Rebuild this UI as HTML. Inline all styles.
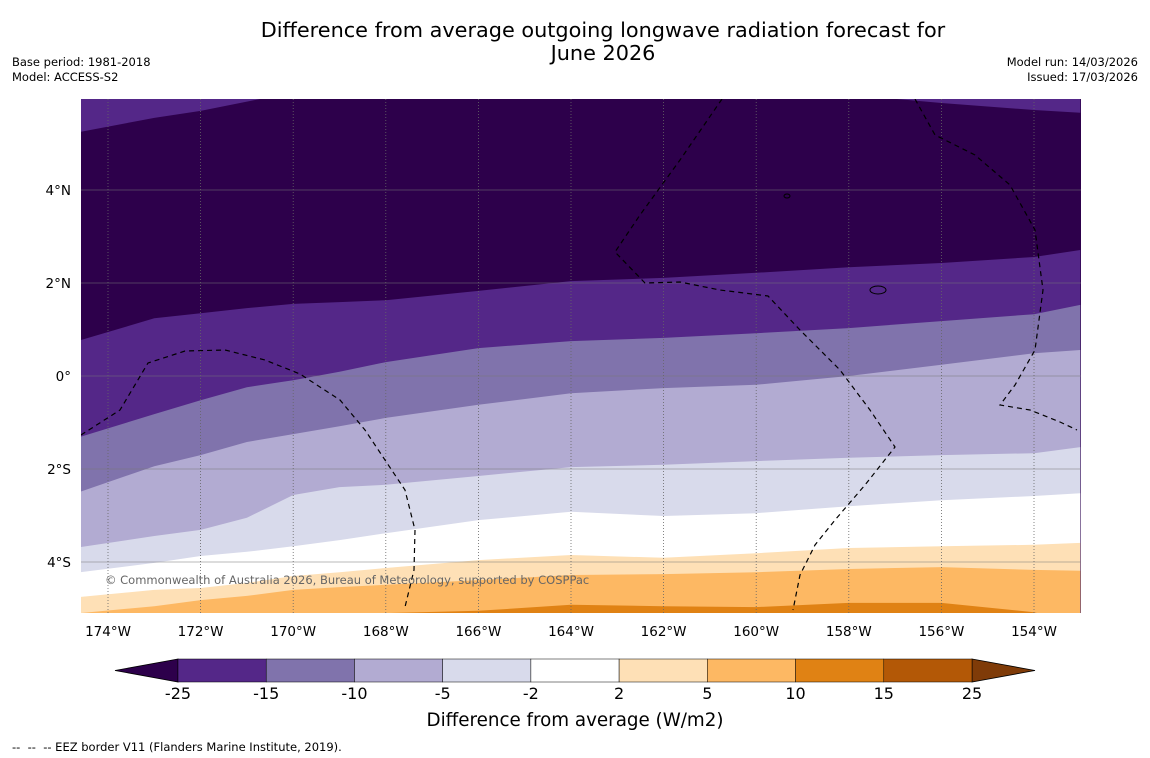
<!DOCTYPE html>
<html><head><meta charset="utf-8"><style>
body{margin:0;background:#fff;}
#wrap{position:relative;width:1150px;height:758px;font-family:"DejaVu Sans","Liberation Sans",sans-serif;overflow:hidden;}
.t{position:absolute;white-space:nowrap;color:#000;}
</style></head><body>
<div id="wrap">
<div class="t" style="left:0;width:1206px;top:19px;text-align:center;font-size:20.8px;line-height:23px;">Difference from average outgoing longwave radiation forecast for<br>June 2026</div>
<div class="t" style="left:12px;top:55px;font-size:11.5px;line-height:15px;">Base period: 1981-2018<br>Model: ACCESS-S2</div>
<div class="t" style="right:12px;top:55px;font-size:11.5px;line-height:15px;text-align:right;">Model run: 14/03/2026<br>Issued: 17/03/2026</div>
<div class="t" style="left:12px;top:740px;font-size:11.5px;">--&nbsp; --&nbsp; -- EEZ border V11 (Flanders Marine Institute, 2019).</div>
<svg id="svg" width="1150" height="758" style="position:absolute;left:0;top:0"></svg>
</div>
<script>
const lons=[-174.6,-173,-172,-171,-170,-169,-168,-166,-164,-162,-160,-158,-156,-154,-153];
const topStrip=[5.25,5.55,5.70,5.90,6.1,6.1,6.1,6.1,6.1,6.1,6.1,6.05,5.87,5.72,5.66];
const bM25=[0.77,1.24,1.35,1.46,1.55,1.59,1.63,1.83,2.04,2.11,2.22,2.34,2.43,2.56,2.71];
const bM15=[-1.31,-0.82,-0.52,-0.24,-0.09,0.09,0.30,0.60,0.75,0.82,0.92,1.03,1.18,1.33,1.53];
const bM10=[-2.49,-1.94,-1.70,-1.42,-1.25,-1.08,-0.90,-0.62,-0.37,-0.26,-0.19,0.0,0.24,0.49,0.56];
const bM5=[-3.68,-3.44,-3.31,-3.05,-2.56,-2.39,-2.34,-2.15,-1.96,-1.91,-1.83,-1.76,-1.70,-1.66,-1.53];
const bM2=[-4.22,-4.02,-3.87,-3.78,-3.66,-3.53,-3.38,-3.10,-2.92,-3.01,-2.95,-2.80,-2.67,-2.58,-2.52];
const bP2=[-4.75,-4.60,-4.56,-4.45,-4.30,-4.22,-4.13,-3.96,-3.85,-3.91,-3.81,-3.70,-3.66,-3.63,-3.59];
const bP5=[-5.10,-4.95,-4.82,-4.73,-4.60,-4.54,-4.49,-4.39,-4.28,-4.26,-4.22,-4.15,-4.11,-4.17,-4.19];
const bP10=[-5.35,-5.29,-5.25,-5.20,-5.16,-5.12,-5.10,-5.05,-4.92,-4.95,-4.97,-4.88,-4.88,-5.08,-5.35];
const levels=["-25","-15","-10","-5","-2","2","5","10","15","25"];
const colors=["#542788","#8073ac","#b2abd2","#d8daeb","#ffffff","#fee0b6","#fdb863","#e08214","#b35806"];
const lowColor="#2d004b", highColor="#7f3b08";
const lonTicks=[-174,-172,-170,-168,-166,-164,-162,-160,-158,-156,-154];
const latTicks=[4,2,0,-2,-4];

const L=81,R=1081,T=99,B=613;
const x=lon=>108+(lon+174)*46.3;
const y=lat=>376-lat*46.5;
const svg=document.getElementById('svg');
const NS='http://www.w3.org/2000/svg';
const FF='DejaVu Sans, Liberation Sans, sans-serif';
function mk(tag,attrs,parent){const e=document.createElementNS(NS,tag);for(const k in attrs)e.setAttribute(k,attrs[k]);(parent||svg).appendChild(e);return e;}
const defs=mk('defs',{});
const cp=mk('clipPath',{id:'clip'},defs);mk('rect',{x:L,y:T,width:R-L,height:B-T},cp);
const g=mk('g',{'clip-path':'url(#clip)'});


const bg=mk('rect',{x:L,y:T,width:R-L,height:B-T,fill:lowColor},g);


function linePts(arr){return lons.map((lo,i)=>x(lo).toFixed(1)+','+y(arr[i]).toFixed(1)).join(' ');}
const ts=mk('polygon',{points:x(lons[0])+','+(T-20)+' '+linePts(topStrip)+' '+x(lons[lons.length-1])+','+(T-20),fill:colors[0]},g);


const bounds=[bM25,bM15,bM10,bM5,bM2,bP2,bP5,bP10];
bounds.forEach((b,i)=>{
  const p=mk('polygon',{points:linePts(b)+' '+x(lons[lons.length-1])+','+(B+40)+' '+x(lons[0])+','+(B+40),fill:colors[i]},g);
  
  
});
latTicks.forEach(la=>{
  const l=mk('line',{x1:L,x2:R,y1:y(la),y2:y(la),stroke:'#777','stroke-width':0.6},g);
  
  
});
lonTicks.forEach(lo=>{
  const l=mk('line',{x1:x(lo),x2:x(lo),y1:T,y2:B,stroke:'#666','stroke-width':0.8,'stroke-dasharray':'1,2'},g);
  
  
});
const eez=["M81,435 L120,410 L148,363 L185,351 L225,350 L265,360 L300,374 L340,400 L365,430 L385,460 L405,490 L415,530 L414,570 L405,607",
"M722,99 L680,160 L640,215 L615,252 L645,283 L680,282 L720,290 L768,296 L800,330 L840,370 L870,410 L895,447 L865,485 L835,520 L815,545 L800,575 L793,610",
"M915,99 L935,135 L975,155 L1010,185 L1035,230 L1043,290 L1035,350 L1015,385 L1000,405 L1030,410 L1060,422 L1077,430"];
eez.forEach(d=>{
  const p=mk('path',{d:d,fill:'none',stroke:'#000','stroke-width':1.2,'stroke-dasharray':'5,4'},g);
  
  
});
const isl=mk('ellipse',{cx:878,cy:290,rx:8,ry:4,fill:'none',stroke:'#000','stroke-width':1},g);


const isl2=mk('ellipse',{cx:787,cy:196,rx:3,ry:2,fill:'none',stroke:'#000','stroke-width':1},g);


const cr=mk('text',{x:105,y:584,fill:'#666','font-size':11.5,'font-family':FF},g);
cr.textContent='© Commonwealth of Australia 2026, Bureau of Meteorology, supported by COSPPac';


lonTicks.forEach(lo=>{
  const t=mk('text',{x:x(lo),y:636,'text-anchor':'middle','font-size':13.5,'font-family':FF});
  t.textContent=Math.abs(lo)+'°W';
  
  
});
latTicks.forEach(la=>{
  const t=mk('text',{x:71,y:y(la)+5,'text-anchor':'end','font-size':13.5,'font-family':FF});
  t.textContent=la===0?'0°':Math.abs(la)+'°'+(la>0?'N':'S');
  
  
});
const cb0=178,cb1=972,cbT=659,cbB=682,cw=(cb1-cb0)/colors.length;
const lt=mk('polygon',{points:cb0+','+cbT+' 115,'+((cbT+cbB)/2)+' '+cb0+','+cbB,fill:lowColor,stroke:'#000','stroke-width':0.8});


const rt=mk('polygon',{points:cb1+','+cbT+' 1035,'+((cbT+cbB)/2)+' '+cb1+','+cbB,fill:highColor,stroke:'#000','stroke-width':0.8});


colors.forEach((c,i)=>{
  const r=mk('rect',{x:cb0+i*cw,y:cbT,width:cw,height:cbB-cbT,fill:c,stroke:'#000','stroke-width':0.5});
  
  
});
levels.forEach((lv,i)=>{
  const t=mk('text',{x:cb0+i*cw,y:699,'text-anchor':'middle','font-size':16,'font-family':FF});
  t.textContent=lv;
  
  
});
const ct=mk('text',{x:575,y:726,'text-anchor':'middle','font-size':18.3,'font-family':FF});
ct.textContent='Difference from average (W/m2)';


</script>
</body></html>
